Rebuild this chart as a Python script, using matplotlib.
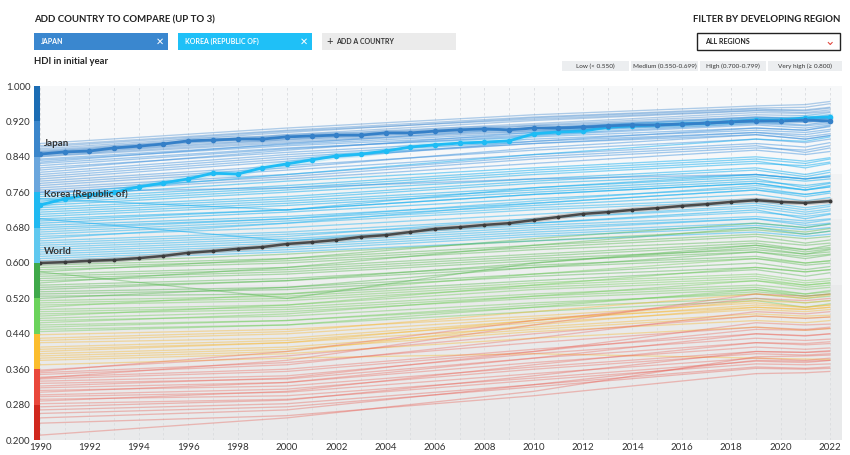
import numpy as np
import matplotlib
matplotlib.use("Agg")
import matplotlib.pyplot as plt
from matplotlib.patches import Rectangle
import matplotlib.patheffects as pe
import matplotlib.transforms as mtransforms

plt.rcParams['font.family'] = ['Lato', 'DejaVu Sans']

# ---------------- data ----------------
years = list(range(1990, 2023))
japan = [0.846, 0.851, 0.853, 0.860, 0.864, 0.869, 0.876, 0.878, 0.880, 0.880,
         0.885, 0.887, 0.889, 0.889, 0.894, 0.894, 0.898, 0.901, 0.903, 0.901,
         0.905, 0.905, 0.907, 0.910, 0.912, 0.912, 0.914, 0.916, 0.919, 0.921,
         0.921, 0.923, 0.921]
korea = [0.731, 0.745, 0.754, 0.760, 0.772, 0.781, 0.790, 0.803, 0.801, 0.815,
         0.824, 0.833, 0.842, 0.846, 0.853, 0.862, 0.867, 0.871, 0.873, 0.876,
         0.892, 0.896, 0.898, 0.907, 0.910, 0.912, 0.914, 0.916, 0.919, 0.923,
         0.923, 0.928, 0.930]
world = [0.600, 0.602, 0.605, 0.607, 0.611, 0.616, 0.623, 0.627, 0.632, 0.636,
         0.643, 0.647, 0.652, 0.659, 0.663, 0.670, 0.677, 0.681, 0.686, 0.690,
         0.697, 0.704, 0.711, 0.715, 0.720, 0.724, 0.729, 0.733, 0.738, 0.742,
         0.738, 0.736, 0.740]

bg_years = [1990, 2000, 2010, 2019, 2021, 2022]
very_high_lines = [
    [0.870, 0.905, 0.935, 0.955, 0.958, 0.965],
    [0.865, 0.900, 0.930, 0.950, 0.952, 0.960],
    [0.862, 0.898, 0.925, 0.945, 0.946, 0.952],
    [0.858, 0.895, 0.928, 0.948, 0.944, 0.950],
    [0.855, 0.890, 0.922, 0.944, 0.940, 0.946],
    [0.852, 0.888, 0.915, 0.940, 0.938, 0.942],
    [0.850, 0.885, 0.912, 0.935, 0.933, 0.940],
    [0.848, 0.880, 0.910, 0.930, 0.928, 0.935],
    [0.845, 0.878, 0.905, 0.928, 0.926, 0.932],
    [0.842, 0.875, 0.900, 0.925, 0.920, 0.928],
    [0.840, 0.872, 0.898, 0.920, 0.918, 0.925],
    [0.835, 0.868, 0.895, 0.918, 0.912, 0.920],
    [0.832, 0.865, 0.890, 0.915, 0.910, 0.915],
    [0.828, 0.870, 0.905, 0.930, 0.925, 0.930],
    [0.825, 0.860, 0.885, 0.905, 0.900, 0.908],
    [0.820, 0.858, 0.888, 0.912, 0.905, 0.912],
    [0.815, 0.850, 0.880, 0.900, 0.895, 0.902],
    [0.810, 0.855, 0.895, 0.925, 0.922, 0.928],
    [0.805, 0.845, 0.875, 0.895, 0.890, 0.898],
    [0.800, 0.840, 0.870, 0.890, 0.880, 0.888],
]
high_lines = [
    [0.795, 0.835, 0.870, 0.895, 0.885, 0.892],
    [0.790, 0.830, 0.875, 0.905, 0.900, 0.910],
    [0.785, 0.820, 0.855, 0.880, 0.872, 0.880],
    [0.780, 0.815, 0.860, 0.890, 0.880, 0.888],
    [0.775, 0.810, 0.845, 0.870, 0.862, 0.872],
    [0.770, 0.800, 0.840, 0.865, 0.850, 0.860],
    [0.765, 0.795, 0.835, 0.860, 0.855, 0.865],
    [0.760, 0.790, 0.825, 0.855, 0.845, 0.852],
    [0.755, 0.800, 0.845, 0.880, 0.875, 0.885],
    [0.750, 0.785, 0.815, 0.840, 0.830, 0.838],
    [0.745, 0.775, 0.810, 0.835, 0.825, 0.835],
    [0.740, 0.770, 0.805, 0.830, 0.815, 0.825],
    [0.735, 0.765, 0.800, 0.825, 0.820, 0.828],
    [0.730, 0.760, 0.790, 0.815, 0.800, 0.810],
    [0.725, 0.750, 0.785, 0.810, 0.795, 0.805],
    [0.720, 0.745, 0.780, 0.800, 0.790, 0.798],
    [0.715, 0.740, 0.770, 0.795, 0.785, 0.790],
    [0.710, 0.735, 0.765, 0.790, 0.770, 0.780],
    [0.705, 0.730, 0.760, 0.785, 0.775, 0.782],
    [0.700, 0.720, 0.755, 0.780, 0.765, 0.772],
    [0.745, 0.720, 0.770, 0.800, 0.790, 0.795],
    [0.760, 0.770, 0.790, 0.800, 0.790, 0.795],
]
medium_lines = [
    [0.695, 0.720, 0.755, 0.780, 0.765, 0.775],
    [0.690, 0.715, 0.745, 0.770, 0.755, 0.762],
    [0.685, 0.705, 0.735, 0.765, 0.750, 0.758],
    [0.680, 0.700, 0.730, 0.755, 0.740, 0.748],
    [0.675, 0.700, 0.740, 0.775, 0.765, 0.772],
    [0.670, 0.695, 0.725, 0.745, 0.735, 0.740],
    [0.665, 0.690, 0.720, 0.740, 0.725, 0.732],
    [0.660, 0.680, 0.710, 0.735, 0.720, 0.728],
    [0.655, 0.690, 0.735, 0.765, 0.755, 0.762],
    [0.650, 0.670, 0.700, 0.725, 0.710, 0.718],
    [0.645, 0.665, 0.690, 0.715, 0.705, 0.712],
    [0.640, 0.660, 0.700, 0.730, 0.715, 0.722],
    [0.635, 0.655, 0.685, 0.705, 0.695, 0.700],
    [0.630, 0.650, 0.680, 0.700, 0.685, 0.690],
    [0.625, 0.645, 0.675, 0.700, 0.690, 0.698],
    [0.620, 0.640, 0.670, 0.690, 0.680, 0.688],
    [0.615, 0.635, 0.665, 0.685, 0.675, 0.680],
    [0.610, 0.630, 0.660, 0.680, 0.665, 0.672],
    [0.605, 0.625, 0.650, 0.670, 0.660, 0.665],
    [0.700, 0.650, 0.690, 0.720, 0.700, 0.710],
]
green_lines = [
    [0.598, 0.620, 0.650, 0.675, 0.665, 0.672],
    [0.595, 0.610, 0.640, 0.665, 0.655, 0.660],
    [0.590, 0.605, 0.635, 0.660, 0.645, 0.652],
    [0.585, 0.600, 0.630, 0.650, 0.640, 0.645],
    [0.580, 0.610, 0.655, 0.690, 0.680, 0.688],
    [0.575, 0.590, 0.620, 0.645, 0.630, 0.640],
    [0.570, 0.585, 0.615, 0.640, 0.625, 0.632],
    [0.565, 0.580, 0.610, 0.630, 0.620, 0.625],
    [0.560, 0.575, 0.605, 0.625, 0.610, 0.618],
    [0.555, 0.590, 0.640, 0.680, 0.670, 0.678],
    [0.550, 0.565, 0.595, 0.615, 0.600, 0.605],
    [0.545, 0.560, 0.590, 0.610, 0.595, 0.600],
    [0.540, 0.560, 0.600, 0.635, 0.620, 0.630],
    [0.535, 0.545, 0.575, 0.600, 0.585, 0.592],
    [0.530, 0.540, 0.570, 0.590, 0.580, 0.585],
    [0.525, 0.530, 0.560, 0.585, 0.570, 0.578],
    [0.520, 0.545, 0.590, 0.625, 0.615, 0.620],
    [0.515, 0.525, 0.555, 0.575, 0.560, 0.565],
    [0.510, 0.520, 0.550, 0.570, 0.555, 0.560],
    [0.505, 0.515, 0.545, 0.565, 0.550, 0.555],
    [0.500, 0.530, 0.575, 0.610, 0.600, 0.605],
    [0.495, 0.505, 0.540, 0.560, 0.545, 0.550],
    [0.490, 0.500, 0.530, 0.550, 0.540, 0.545],
    [0.485, 0.495, 0.525, 0.545, 0.530, 0.538],
    [0.480, 0.505, 0.550, 0.590, 0.580, 0.585],
    [0.475, 0.490, 0.520, 0.540, 0.525, 0.530],
    [0.470, 0.480, 0.510, 0.530, 0.520, 0.525],
    [0.465, 0.485, 0.525, 0.560, 0.550, 0.555],
    [0.460, 0.470, 0.500, 0.520, 0.510, 0.515],
    [0.455, 0.470, 0.505, 0.535, 0.525, 0.530],
    [0.450, 0.460, 0.490, 0.515, 0.500, 0.508],
    [0.445, 0.460, 0.500, 0.540, 0.530, 0.535],
    [0.580, 0.520, 0.600, 0.640, 0.630, 0.635],
]
yellow_lines = [
    [0.438, 0.450, 0.480, 0.510, 0.500, 0.505],
    [0.430, 0.445, 0.490, 0.530, 0.520, 0.528],
    [0.425, 0.440, 0.475, 0.500, 0.495, 0.500],
    [0.420, 0.430, 0.470, 0.505, 0.500, 0.505],
    [0.410, 0.425, 0.465, 0.495, 0.490, 0.495],
    [0.405, 0.420, 0.470, 0.515, 0.510, 0.515],
    [0.400, 0.420, 0.455, 0.485, 0.480, 0.482],
    [0.395, 0.410, 0.450, 0.480, 0.475, 0.478],
    [0.390, 0.405, 0.445, 0.470, 0.465, 0.470],
    [0.385, 0.400, 0.460, 0.500, 0.495, 0.500],
    [0.380, 0.395, 0.430, 0.455, 0.448, 0.452],
    [0.370, 0.385, 0.395, 0.385, 0.383, 0.382],
]
red_lines = [
    [0.358, 0.390, 0.440, 0.480, 0.475, 0.478],
    [0.355, 0.400, 0.470, 0.520, 0.515, 0.520],
    [0.352, 0.375, 0.420, 0.455, 0.450, 0.455],
    [0.348, 0.370, 0.430, 0.490, 0.485, 0.490],
    [0.342, 0.360, 0.405, 0.440, 0.435, 0.440],
    [0.340, 0.380, 0.460, 0.530, 0.525, 0.530],
    [0.338, 0.355, 0.400, 0.450, 0.448, 0.452],
    [0.333, 0.345, 0.395, 0.430, 0.425, 0.428],
    [0.328, 0.338, 0.385, 0.420, 0.415, 0.418],
    [0.322, 0.340, 0.400, 0.465, 0.460, 0.462],
    [0.318, 0.330, 0.375, 0.410, 0.405, 0.408],
    [0.312, 0.322, 0.365, 0.400, 0.398, 0.400],
    [0.308, 0.330, 0.385, 0.440, 0.436, 0.440],
    [0.302, 0.315, 0.360, 0.395, 0.392, 0.395],
    [0.298, 0.308, 0.350, 0.385, 0.380, 0.385],
    [0.292, 0.300, 0.340, 0.378, 0.375, 0.380],
    [0.288, 0.310, 0.370, 0.420, 0.418, 0.422],
    [0.282, 0.292, 0.335, 0.372, 0.370, 0.372],
    [0.275, 0.290, 0.345, 0.400, 0.398, 0.402],
    [0.268, 0.282, 0.325, 0.365, 0.362, 0.365],
    [0.260, 0.275, 0.320, 0.362, 0.360, 0.362],
    [0.250, 0.268, 0.325, 0.380, 0.378, 0.380],
    [0.238, 0.255, 0.300, 0.350, 0.352, 0.355],
    [0.211, 0.250, 0.310, 0.388, 0.390, 0.392],
]

y_ticks = [0.200, 0.280, 0.360, 0.440, 0.520, 0.600, 0.680, 0.760, 0.840, 0.920, 1.000]
x_ticks = list(range(1990, 2023, 2))
legend_labels = ["Low (< 0.550)", "Medium (0.550-0.699)", "High (0.700-0.799)", "Very high (\u2265 0.800)"]

# ---------------- styles ----------------
bar_edges = [0.20, 0.28, 0.36, 0.44, 0.52, 0.60, 0.68, 0.76, 0.84, 0.92, 1.00]
bar_colors = ["#d1281e", "#e9473b", "#fbbd2d", "#6bd35b", "#3fa94a",
              "#5fc8ef", "#1fb9f1", "#6aa6dd", "#3b86cb", "#1c6db4"]
line_colors = ["#e8574c", "#ec5f52", "#f7b834", "#6fcc58", "#52b64b",
               "#2fb8f2", "#14aef0", "#3a8fdc", "#3f88cf", "#3479c3"]
line_alphas = [0.36, 0.36, 0.42, 0.42, 0.42, 0.5, 0.5, 0.45, 0.4, 0.4]


def seg_index(v):
    for i in range(len(bar_edges) - 1):
        if v < bar_edges[i + 1]:
            return i
    return len(bar_edges) - 2


W, H = 850, 455
fig = plt.figure(figsize=(W / 100, H / 100), dpi=100)
fig.patch.set_facecolor("white")


def fx(px):
    return px / W


def fy(py):
    return 1 - py / H


x0_px, x1_px = 40, 842
yr_px = (830 - 40) / 32.0
ax = fig.add_axes([fx(x0_px), fy(440), (x1_px - x0_px) / W, (440 - 86) / H])
ax.set_xlim(1990, 1990 + (x1_px - x0_px) / yr_px)
ax.set_ylim(0.2, 1.0)

# background bands by category
ax.axhspan(0.80, 1.00, color="#f7f8f9", zorder=0, lw=0)
ax.axhspan(0.70, 0.80, color="#f2f3f4", zorder=0, lw=0)
ax.axhspan(0.55, 0.70, color="#eeeff0", zorder=0, lw=0)
ax.axhspan(0.20, 0.55, color="#e9eaeb", zorder=0, lw=0)
for yr in years:
    ax.axvline(yr, color="#dadcdf", lw=0.6, ls=(0, (3, 3)), zorder=1)

# background country lines
groups = [very_high_lines, high_lines, medium_lines, green_lines, yellow_lines, red_lines]
for g in groups:
    for ln in g:
        k = seg_index(ln[0])
        ax.plot(bg_years, ln, color=line_colors[k], lw=0.95,
                alpha=line_alphas[k], zorder=2, solid_capstyle="round")

# highlighted lines
ax.plot(years, world, color="#4a4a4a", lw=1.8, zorder=5,
        path_effects=[pe.Stroke(linewidth=3.6, foreground="#a8a8a8", alpha=0.55), pe.Normal()])
ax.plot(years, world, ls="none", marker="o", ms=1.8, color="#3a3a3a", zorder=6)
ax.plot(years, korea, color="#1ebcf5", lw=2.0, zorder=7,
        path_effects=[pe.Stroke(linewidth=4.5, foreground="#1ebcf5", alpha=0.2), pe.Normal()])
ax.plot(years, korea, ls="none", marker="o", ms=3.0, color="#1ebcf5", zorder=8)
ax.plot(years, japan, color="#3580c8", lw=2.0, zorder=7,
        path_effects=[pe.Stroke(linewidth=4.5, foreground="#3580c8", alpha=0.2), pe.Normal()])
ax.plot(years, japan, ls="none", marker="o", ms=3.0, color="#3580c8", zorder=8)

lbl_off = mtransforms.offset_copy(ax.transData, fig=fig, x=3, y=0, units="points")
ax.text(1990, 0.869, "Japan", transform=lbl_off, fontsize=7, fontweight="bold",
        color="#333333", va="center", zorder=9)
ax.text(1990, 0.756, "Korea (Republic of)", transform=lbl_off, fontsize=7, fontweight="bold",
        color="#333333", va="center", zorder=9)
ax.text(1990, 0.626, "World", transform=lbl_off, fontsize=7, fontweight="bold",
        color="#333333", va="center", zorder=9)

# colour bar on the left
bt = mtransforms.blended_transform_factory(fig.transFigure, ax.transData)
for i, c in enumerate(bar_colors):
    ax.add_patch(Rectangle((fx(34), bar_edges[i]), fx(6), bar_edges[i + 1] - bar_edges[i],
                           transform=bt, color=c, clip_on=False, zorder=10, lw=0))

ax.set_yticks(y_ticks)
ax.set_yticklabels([f"{v:.3f}" for v in y_ticks])
ax.set_xticks(x_ticks)
ax.set_xticklabels([str(v) for v in x_ticks])
ax.tick_params(axis="both", length=0, labelsize=7, colors="#333333")
ax.tick_params(axis="y", pad=7)
ax.tick_params(axis="x", pad=2)
for s in ax.spines.values():
    s.set_visible(False)

# ---------------- header UI ----------------
fig.text(fx(34), fy(20), "ADD COUNTRY TO COMPARE (UP TO 3)", fontsize=6.9, fontweight="bold",
         color="#222222", va="center", ha="left")
fig.text(fx(840), fy(20), "FILTER BY DEVELOPING REGION", fontsize=6.9, fontweight="bold",
         color="#222222", va="center", ha="right")


def chip(x, w, color, label, tcolor, cross=True, plus=False):
    fig.patches.append(Rectangle((fx(x), fy(50)), w / W, 17 / H, transform=fig.transFigure,
                                 color=color, lw=0))
    tx = x + 7
    if plus:
        fig.text(fx(x + 4), fy(41.5), "+", fontsize=8, color="#333333", va="center")
        tx = x + 14
    fig.text(fx(tx), fy(41.5), label, fontsize=5, fontweight="bold", color=tcolor, va="center")
    if cross:
        fig.text(fx(x + w - 8), fy(41.5), "\u2715", fontsize=7, color="white", va="center",
                 ha="center", family=["DejaVu Sans"])


chip(34, 134, "#3a87cf", "JAPAN", "white")
chip(178, 134, "#1fc0f7", "KOREA (REPUBLIC OF)", "white")
chip(322, 134, "#ebebeb", "ADD A COUNTRY", "#333333", cross=False, plus=True)

fig.patches.append(Rectangle((fx(697), fy(50)), 143 / W, 17 / H, transform=fig.transFigure,
                             facecolor="white", edgecolor="#222222", lw=1))
fig.text(fx(705), fy(41.5), "ALL REGIONS", fontsize=5, fontweight="bold", color="#222222", va="center")
fig.text(fx(830), fy(41.5), "\u2304", fontsize=9, color="#e0443a", va="center", ha="center",
         family=["DejaVu Sans"])

fig.text(fx(34), fy(62), "HDI in initial year", fontsize=6.8, fontweight="bold", color="#222222",
         va="center")

leg_boxes = [(562, 67), (631, 67), (700, 66), (768, 74)]
for (lx, lw_), lab in zip(leg_boxes, legend_labels):
    fig.patches.append(Rectangle((fx(lx), fy(71)), lw_ / W, 10 / H, transform=fig.transFigure,
                                 color="#eceef0", lw=0))
    fig.text(fx(lx + lw_ / 2), fy(66), lab, fontsize=4.6, color="#333333", va="center", ha="center",
             family=["Lato", "DejaVu Sans"])

fig.savefig("out.png", dpi=100, facecolor="white")
